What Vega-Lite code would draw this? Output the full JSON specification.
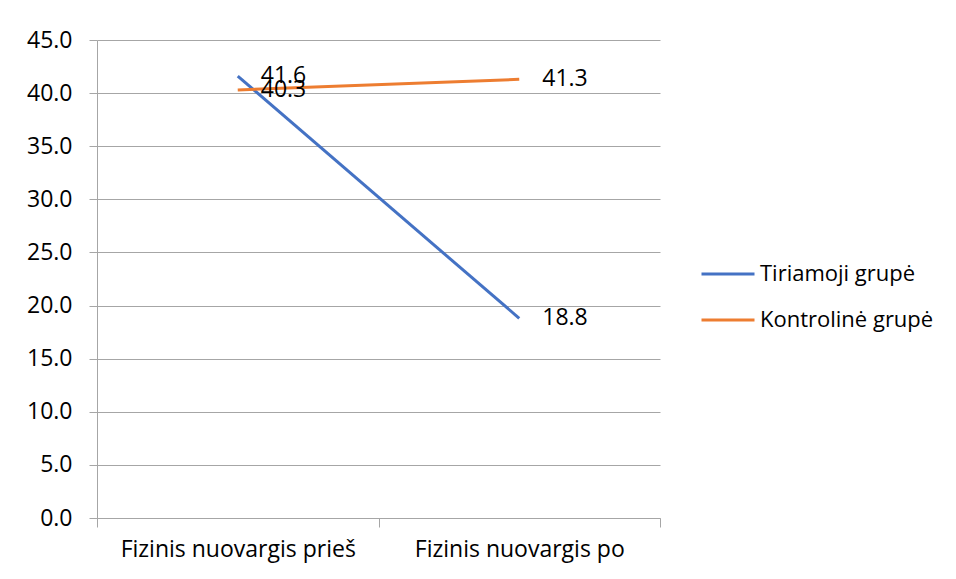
{
  "$schema": "https://vega.github.io/schema/vega-lite/v6.json",
  "autosize": "none",
  "width": 563,
  "height": 478,
  "padding": {"left": 97, "top": 40, "right": 296, "bottom": 61},
  "background": "white",
  "config": {
    "view": {"stroke": null},
    "font": "Open Sans",
    "axis": {"labelFont": "Open Sans", "labelFontSize": 23, "labelColor": "#000000", "labelLimit": 0, "domainColor": "#a6a6a6", "tickColor": "#a6a6a6", "gridColor": "#a6a6a6", "title": null},
    "legend": {"labelFont": "Open Sans", "labelFontSize": 22, "labelColor": "#000000", "labelLimit": 0}
  },
  "data": {
    "values": [
      {"laikas": "Fizinis nuovargis prieš", "grupe": "Tiriamoji grupė", "reiksme": 41.6},
      {"laikas": "Fizinis nuovargis po", "grupe": "Tiriamoji grupė", "reiksme": 18.8},
      {"laikas": "Fizinis nuovargis prieš", "grupe": "Kontrolinė grupė", "reiksme": 40.3},
      {"laikas": "Fizinis nuovargis po", "grupe": "Kontrolinė grupė", "reiksme": 41.3}
    ]
  },
  "encoding": {
    "x": {
      "field": "laikas", "type": "nominal", "sort": null,
      "scale": {"type": "band", "paddingInner": 0, "paddingOuter": 0},
      "axis": {"labelAngle": 0, "tickBand": "extent", "tickSize": 9, "labelPadding": 11, "domain": true, "grid": false}
    },
    "y": {
      "field": "reiksme", "type": "quantitative",
      "scale": {"domain": [0, 45], "nice": false, "zero": true},
      "axis": {"values": [0, 5, 10, 15, 20, 25, 30, 35, 40, 45], "format": ".1f", "tickSize": 8, "labelPadding": 17, "grid": true, "domain": true}
    },
    "color": {
      "field": "grupe", "type": "nominal", "sort": ["Tiriamoji grupė", "Kontrolinė grupė"],
      "scale": {"domain": ["Tiriamoji grupė", "Kontrolinė grupė"], "range": ["#4472C4", "#ED7D31"]},
      "legend": {"title": null, "orient": "none", "legendX": 603, "legendY": 206, "symbolType": "stroke", "symbolSize": 2809, "symbolStrokeWidth": 3, "labelOffset": 4, "rowPadding": 7}
    }
  },
  "layer": [
    {"mark": {"type": "line", "strokeWidth": 3}},
    {"mark": {"type": "text", "align": "left", "baseline": "middle", "dx": 23, "fontSize": 23, "color": "#000000"},
     "encoding": {"text": {"field": "reiksme", "type": "quantitative", "format": ".1f"}, "color": {"value": "#000000"}}}
  ]
}
